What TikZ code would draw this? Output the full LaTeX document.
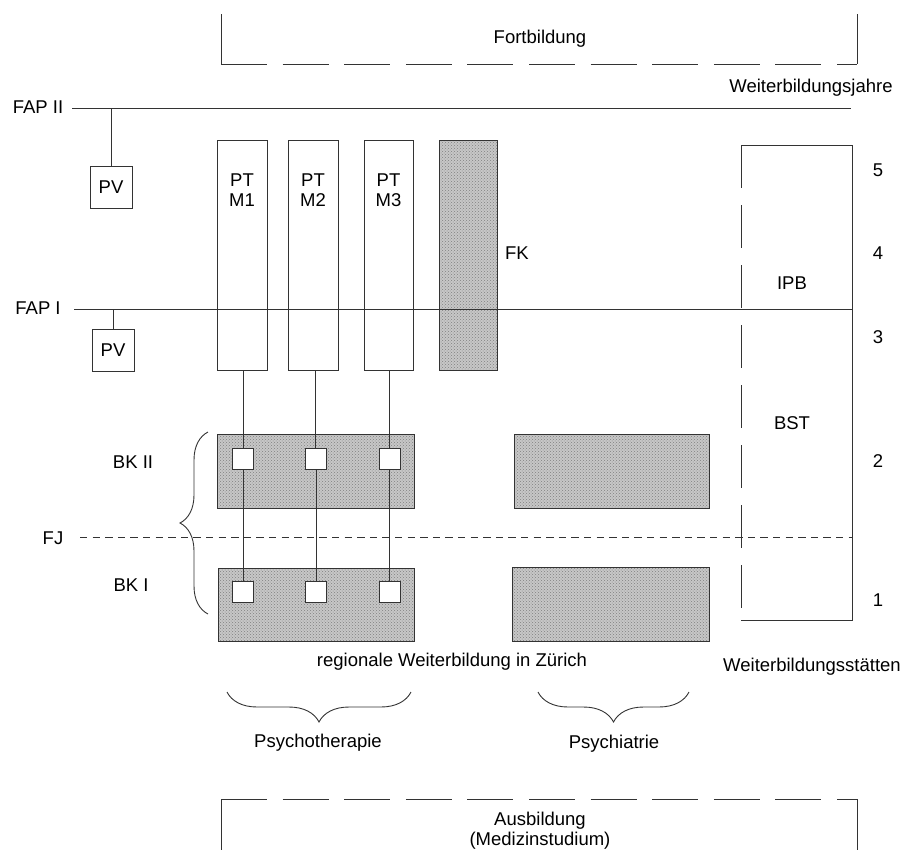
\documentclass[tikz,border=0pt]{standalone}
\usepackage{fontspec}
\setmainfont{Liberation Sans}
\usetikzlibrary{decorations.pathreplacing,patterns}
\begin{document}
\begin{tikzpicture}[x=1pt,y=-1pt,
  ln/.style={draw=black!80, line width=0.9pt},
  txt/.style={inner sep=0pt, font=\fontsize{18.5}{20}\selectfont, text=black},
  box/.style={ln, inner sep=0pt, fill=white, font=\fontsize{18.5}{20}\selectfont},
  hatch/.style={ln, inner sep=0pt, preaction={fill=black!22}, pattern=crosshatch dots, pattern color=black!50},
  brc/.style={ln, decorate, decoration={brace, amplitude=#1}},
]
\useasboundingbox (0,0) rectangle (904,849);

% Fortbildung box
\coordinate (f1) at (221,14); \coordinate (f2) at (221,64);
\coordinate (f3) at (857,64); \coordinate (f4) at (857,14);
\draw[ln] (f1) -- (f2);
\draw[ln] (f4) -- (f3);
\draw[ln, dash pattern=on 46pt off 15.6pt] (f2) -- (f3);
\node[txt] (fortT) at (540,39) {Fortbildung};

% Ausbildung box
\coordinate (a1) at (221,852); \coordinate (a2) at (221,799);
\coordinate (a3) at (857,799); \coordinate (a4) at (857,852);
\draw[ln] (a1) -- (a2);
\draw[ln] (a4) -- (a3);
\draw[ln, dash pattern=on 46pt off 15.6pt] (a2) -- (a3);
\node[txt, align=center] (ausT) at (540,831) {Ausbildung\\(Medizinstudium)};

% hatched boxes
\node[hatch, minimum width=58pt, minimum height=230pt] (fk) at (468,255) {};
\node[hatch, minimum width=197pt, minimum height=74pt] (bk2) at (315.5,471) {};
\node[hatch, minimum width=196pt, minimum height=73pt] (bk1) at (316,604.5) {};
\node[hatch, minimum width=195pt, minimum height=74pt] (ps2) at (611.5,471) {};
\node[hatch, minimum width=197pt, minimum height=74pt] (ps1) at (610.5,604) {};

% PT boxes
\node[box, minimum width=50pt, minimum height=230pt] (m1) at (242,255) {};
\node[box, minimum width=50pt, minimum height=230pt] (m2) at (313,255) {};
\node[box, minimum width=49pt, minimum height=230pt] (m3) at (388.5,255) {};
\node[txt, align=center] (m1t) at (242,190) {PT\\M1};
\node[txt, align=center] (m2t) at (313,190) {PT\\M2};
\node[txt, align=center] (m3t) at (388.5,190) {PT\\M3};
\node[txt] (fkl) at (517,253) {FK};

% BST / IPB box
\coordinate (b1) at (741,145); \coordinate (b2) at (852,145);
\coordinate (b3) at (852,620); \coordinate (b4) at (741,620);
\draw[ln] (b1) -- (b2) -- (b3) -- (b4);
\draw[ln, dash pattern=on 43pt off 17pt] (b1) -- (b4);
\node[txt] (ipb) at (792,283) {IPB};
\node[txt] (bst) at (792,423) {BST};

% FAP lines
\coordinate (fap2a) at (72,108); \coordinate (fap2b) at (851,108);
\coordinate (fap1a) at (74,309); \coordinate (fap1b) at (852,309);
\coordinate (fja) at (80,537); \coordinate (fjb) at (852,537);
\draw[ln] (fap2a) -- (fap2b);
\draw[ln] (fap1a) -- (fap1b);
\draw[ln, dash pattern=on 7.3pt off 5.3pt] (fja) -- (fjb);
\node[txt] (fap2l) at (38,107) {FAP II};
\node[txt] (fap1l) at (38,308) {FAP I};
\node[txt] (fjl) at (53,538) {FJ};
\node[txt] (wbj) at (811,88) {Weiterbildungsjahre};

% PV boxes
\node[box, minimum width=42pt, minimum height=42pt] (pv2) at (111,187) {PV};
\node[box, minimum width=42pt, minimum height=42pt] (pv1) at (113,350) {PV};
\draw[ln] (pv2.north) -- (pv2.north |- fap2a);
\draw[ln] (pv1.north) -- (pv1.north |- fap1a);

% small squares
\node[box, minimum size=21pt] (s1) at (243,459) {};
\node[box, minimum size=21pt] (s2) at (315.5,459) {};
\node[box, minimum size=21pt] (s3) at (389.5,459) {};
\node[box, minimum size=21pt] (t1) at (243,592) {};
\node[box, minimum size=21pt] (t2) at (316,592) {};
\node[box, minimum size=21pt] (t3) at (389.5,592) {};
\draw[ln] (s1.north) -- (s1.north |- m1.south);
\draw[ln] (s2.north) -- (s2.north |- m2.south);
\draw[ln] (s3.north) -- (s3.north |- m3.south);
\draw[ln] (t1.north) -- (t1.north |- s1.south);
\draw[ln] (t2.north) -- (t2.north |- s2.south);
\draw[ln] (t3.north) -- (t3.north |- s3.south);

% braces
\coordinate (br1a) at (208,614); \coordinate (br1b) at (208,432);
\draw[brc=28pt] (br1a) -- (br1b);
\coordinate (br2a) at (411,692); \coordinate (br2b) at (227,692);
\draw[brc=30pt] (br2a) -- (br2b);
\coordinate (br3a) at (689,692); \coordinate (br3b) at (538,692);
\draw[brc=30pt] (br3a) -- (br3b);

\node[txt] (bk2l) at (133,462) {BK II};
\node[txt] (bk1l) at (131,585) {BK I};

% year numbers
\node[txt] (y5) at (878,170) {5};
\node[txt] (y4) at (878,253) {4};
\node[txt] (y3) at (878,337) {3};
\node[txt] (y2) at (878,461) {2};
\node[txt] (y1) at (878,600) {1};

\node[txt] (reg) at (452,662) {regionale Weiterbildung in Zürich};
\node[txt] (wbs) at (812,667) {Weiterbildungsstätten};
\node[txt] (pth) at (318,743) {Psychotherapie};
\node[txt] (psy) at (614,744) {Psychiatrie};
\end{tikzpicture}
\end{document}
